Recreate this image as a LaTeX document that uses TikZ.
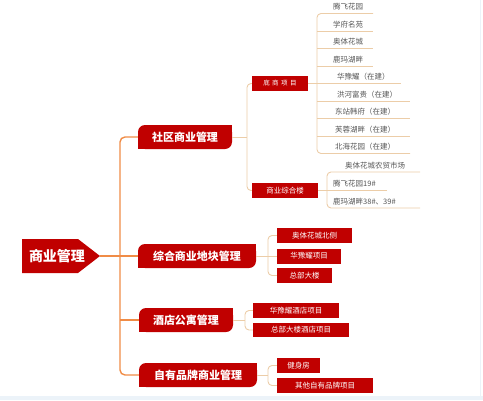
\documentclass[tikz,border=0pt]{standalone}
\usepackage{fontspec}
\setmainfont{Noto Sans CJK SC}
\definecolor{cred}{RGB}{192,0,0}
\definecolor{ctrunk}{RGB}{240,140,70}
\definecolor{ctan}{RGB}{236,205,168}
\definecolor{cleaf}{RGB}{85,85,85}
\definecolor{cstrip}{RGB}{236,243,249}
\begin{document}
\begin{tikzpicture}[x=1pt,y=-1pt,
 lvone/.style={fill=cred, text=white, font=\fontsize{11}{12}\selectfont\bfseries, minimum height=24pt, inner sep=0pt, rounded corners=7pt},
 lvtwo/.style={fill=cred, text=white, font=\fontsize{7.5}{8}\selectfont, minimum height=15pt, inner sep=0pt},
 leaf/.style={text=cleaf, font=\fontsize{7.5}{8}\selectfont, inner sep=0pt, anchor=west},
 trunk/.style={draw=ctrunk, line width=1.4pt, rounded corners=5pt},
 twig/.style={draw=ctan, line width=0.9pt, rounded corners=4pt},
]
\useasboundingbox (0,0) rectangle (483,400);
\fill[cstrip] (0,396) rectangle (483,400);
\draw[cstrip, line width=0.8pt] (480,0) -- (480,396);

% root
\fill[cred] (22,239) -- (78,239) -- (100,256) -- (78,273) -- (22,273) -- cycle;
\node[text=white, font=\fontsize{14}{15}\selectfont\bfseries] (root) at (57,256) {商业管理};
\coordinate (tip) at (100,256);

% level 1
\node[lvone, minimum width=94pt] (a) at (185,137) {社区商业管理};
\node[lvone, minimum width=118pt] (b) at (197,256) {综合商业地块管理};
\node[lvone, minimum width=94pt] (c) at (186,320) {酒店公寓管理};
\node[lvone, minimum width=118pt] (d) at (198,375) {自有品牌商业管理};
\foreach \n in {a,b,c,d}{
  \fill[cred] (\n.north east) rectangle ++(-8pt,-8pt);
  \fill[cred] (\n.south west) rectangle ++(8pt,8pt);
}

% trunk
\coordinate (T) at (120,256);
\draw[trunk] (a.west) -- (a.west -| T) -- (d.west -| T) -- (d.west);
\draw[trunk] (tip) -- (b.west);
\draw[trunk] (c.west -| T) -- (c.west);

% --- a: 社区商业管理
\node[lvtwo, minimum width=56pt, font=\fontsize{6.5}{7}\selectfont] (a1) at (280,83.5) {底\hspace{2.5pt}商\hspace{2.5pt}项\hspace{2.5pt}目};
\node[lvtwo, minimum width=66pt] (a2) at (285,190.5) {商业综合楼};
\coordinate (S1) at (247,137);
\draw[twig] (a.east) -- (S1);
\draw[twig] (a1.west) -- (a1.west -| S1) -- (a2.west -| S1) -- (a2.west);

\coordinate (P) at (317,0);
\foreach \i/\x/\y/\t/\e in {1/333/13.5/腾飞花园/373, 2/333/31/学府名苑/373, 3/333/48.5/奥体花城/373, 4/333/66/鹿玛湖畔/373, 5/337/83.5/华豫耀（在建）/401, 6/337/101/洪河富贵（在建）/410, 7/335/118.5/东站韩府（在建）/410, 8/335/136/芙蓉湖畔（在建）/410, 9/335/153.5/北海花园（在建）/410}{
  \node[leaf] (l\i) at (\x,\y-6.5) {\t};
  \coordinate (u\i) at (\e,\y);
}
\draw[twig] (u1) -- (u1 -| P) -- (u9 -| P) -- (u9);
\foreach \i in {2,3,4,6,7,8} \draw[twig, sharp corners] (u\i -| P) -- (u\i);
\draw[twig] (a1.east) -- (u5);

\coordinate (Q) at (327,0);
\foreach \i/\x/\y/\t/\e in {1/345/172/奥体花城农贸市场/420, 2/333/190.5/腾飞花园19\#/387, 3/333/208/鹿玛湖畔38\#、39\#/420}{
  \node[leaf] (m\i) at (\x,\y-6.5) {\t};
  \coordinate (v\i) at (\e,\y);
}
\draw[twig] (v1) -- (v1 -| Q) -- (v3 -| Q) -- (v3);
\draw[twig] (a2.east) -- (v2);

% --- b: 综合商业地块管理
\coordinate (S2) at (268,0);
\node[lvtwo, minimum width=75pt] (b1) at (314.5,235.5) {奥体花城北侧};
\node[lvtwo, minimum width=64pt] (b2) at (309,256) {华豫耀项目};
\node[lvtwo, minimum width=55pt] (b3) at (304.5,275.5) {总部大楼};
\draw[twig] (b.east) -- (b2.west);
\draw[twig] (b1.west) -- (b1.west -| S2) -- (b3.west -| S2) -- (b3.west);

% --- c: 酒店公寓管理
\coordinate (S3) at (245,0);
\node[lvtwo, minimum width=86pt] (c1) at (296,310.5) {华豫耀酒店项目};
\node[lvtwo, minimum width=96pt, minimum height=14pt] (c2) at (301,330) {总部大楼酒店项目};
\draw[twig] (c.east) -- (c.east -| S3);
\draw[twig] (c1.west) -- (c1.west -| S3) -- (c2.west -| S3) -- (c2.west);

% --- d: 自有品牌商业管理
\node[lvtwo, minimum width=43pt] (d1) at (298.5,365.5) {健身房};
\node[lvtwo, minimum width=96pt] (d2) at (325,385.5) {其他自有品牌项目};
\draw[twig] (d.east) -- (d.east -| S2);
\draw[twig] (d1.west) -- (d1.west -| S2) -- (d2.west -| S2) -- (d2.west);
\end{tikzpicture}
\end{document}
